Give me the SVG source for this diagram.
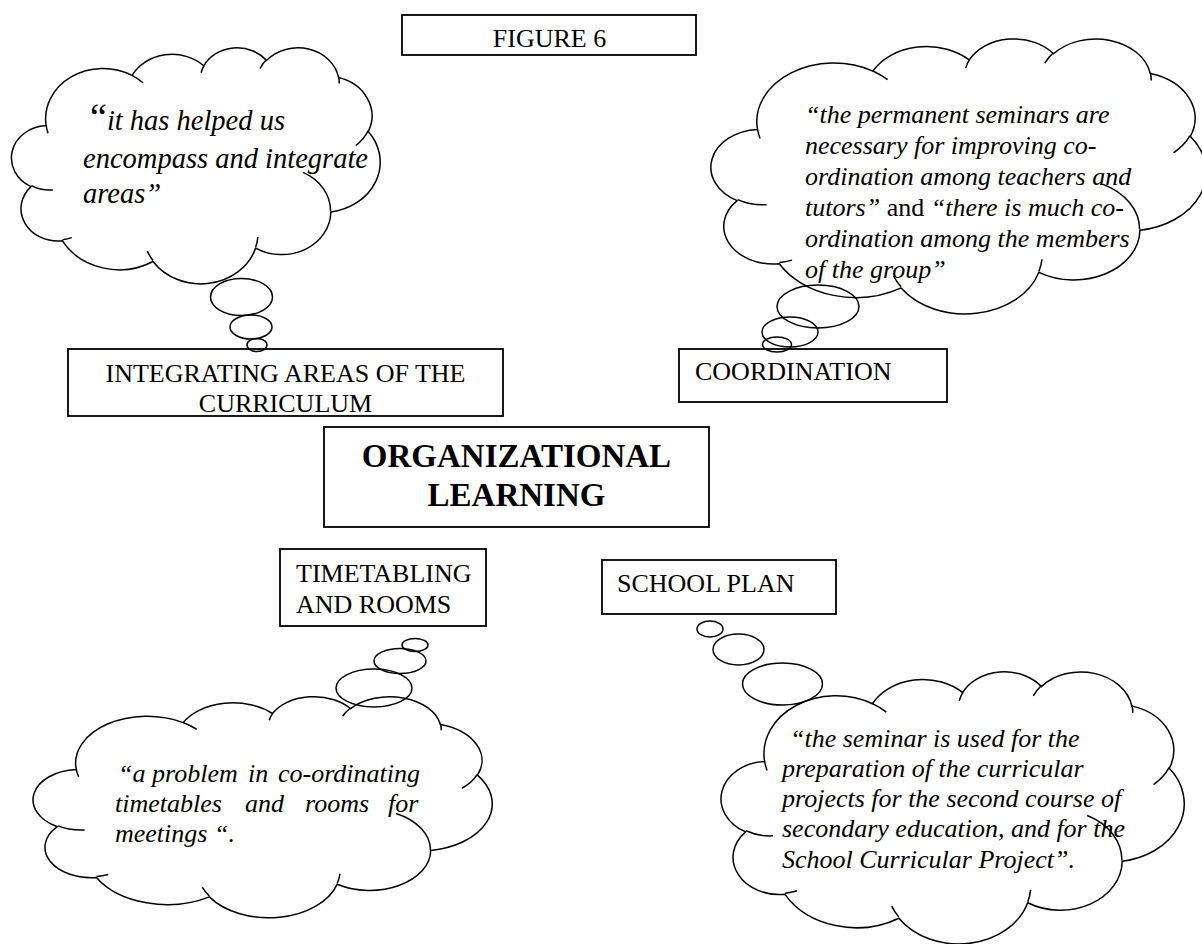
<svg xmlns="http://www.w3.org/2000/svg" xmlns:xlink="http://www.w3.org/1999/xlink" width="1202" height="944" viewBox="0 0 1202 944">
  <style>
    .box { fill: none; stroke: #000; stroke-width: 1.8; }
    .cloud { fill: none; stroke: #000; stroke-width: 1.5; vector-effect: non-scaling-stroke; stroke-linejoin: round; }
    .bubble { fill: none; stroke: #000; stroke-width: 1.5; }
    .label { font-family: "Liberation Serif", "Times New Roman", serif; font-size: 26px; fill: #000; }
    .title { font-family: "Liberation Serif", "Times New Roman", serif; font-size: 33px; font-weight: bold; fill: #000; }
    .quote { font-family: "Liberation Serif", "Times New Roman", serif; font-size: 26px; font-style: italic; fill: #000; }
    .roman { font-style: normal; }
  </style>
  <defs>
    <!-- cloud outline in a 43200 x 43200 unit box -->
    <g id="cloudShape">
      <path class="cloud" d="M3900 14370 A6753 9190 0 0 1 14005 5202 A5333 7267 0 0 1 22458 3433 A4365 5945 0 0 1 29836 2481 A4857 6595 0 0 1 38321 5576 A5333 7273 0 0 1 41822 15459 A6775 9220 0 0 1 37407 30200 A5785 7867 0 0 1 28558 36811 A6752 9215 0 0 1 16483 39264 A7720 10543 0 0 1 5808 35472 A4360 5918 0 0 1 2116 25552 A4345 5945 0 0 1 3900 14370 Z"/>
      <path class="cloud" d="M4693 26177 A4345 5945 0 0 1 2160 25380 M6928 34899 A4360 5918 0 0 1 5820 35281 M16478 39090 A6752 9215 0 0 1 15810 37348 M28827 34751 A6752 9215 0 0 1 28561 36660 M34129 22954 A5785 7867 0 0 1 37381 30090 M41798 15354 A5333 7273 0 0 1 40350 18030 M38324 5426 A4857 6595 0 0 1 38400 6690 M29078 3952 A4857 6595 0 0 1 29820 2340 M22141 4720 A4365 5945 0 0 1 22476 3397 M14000 5192 A6753 9190 0 0 1 15302 6543 M4127 15789 A6753 9190 0 0 1 3900 14371"/>
    </g>
  </defs>

  <!-- heading -->
  <g id="figure-title">
    <rect class="box" x="402" y="15" width="294" height="40"/>
    <text class="label" x="549.5" y="47" text-anchor="middle">FIGURE 6</text>
  </g>

  <!-- central concept -->
  <g id="organizational-learning">
    <rect class="box" x="324" y="427" width="385" height="100"/>
    <text class="title" x="516.5" y="467" text-anchor="middle">ORGANIZATIONAL</text>
    <text class="title" x="516.5" y="506" text-anchor="middle">LEARNING</text>
  </g>

  <g id="integrating-areas">
    <rect class="box" x="68" y="349" width="435" height="67"/>
    <text class="label" x="285.5" y="382" text-anchor="middle">INTEGRATING AREAS OF THE</text>
    <text class="label" x="285.5" y="412" text-anchor="middle">CURRICULUM</text>
  </g>

  <g id="coordination">
    <rect class="box" x="679" y="349" width="268" height="53"/>
    <text class="label" x="695" y="380">COORDINATION</text>
  </g>

  <g id="timetabling">
    <rect class="box" x="280" y="549" width="206" height="77"/>
    <text class="label" x="296" y="582">TIMETABLING</text>
    <text class="label" x="296" y="613">AND ROOMS</text>
  </g>

  <g id="school-plan">
    <rect class="box" x="602" y="560" width="234" height="54"/>
    <text class="label" x="617" y="592">SCHOOL PLAN</text>
  </g>

  <!-- thought bubbles linking each cloud to its box -->
  <g id="connectors">
    <ellipse class="bubble" cx="241.5" cy="297" rx="31" ry="18.5"/>
    <ellipse class="bubble" cx="251" cy="327" rx="21" ry="12"/>
    <ellipse class="bubble" cx="257" cy="345" rx="10" ry="6.5"/>

    <ellipse class="bubble" cx="818" cy="306.5" rx="41" ry="21.5"/>
    <ellipse class="bubble" cx="790" cy="332" rx="28" ry="15"/>
    <ellipse class="bubble" cx="777" cy="344.5" rx="14.5" ry="7.5"/>

    <ellipse class="bubble" cx="415" cy="645" rx="13" ry="6.5"/>
    <ellipse class="bubble" cx="400" cy="661" rx="26" ry="12.5"/>
    <ellipse class="bubble" cx="374" cy="688" rx="38" ry="19"/>

    <ellipse class="bubble" cx="710" cy="629" rx="13" ry="8"/>
    <ellipse class="bubble" cx="738.5" cy="649.5" rx="25.5" ry="15.5"/>
    <ellipse class="bubble" cx="782.5" cy="684" rx="40" ry="21"/>
  </g>

  <!-- quotation clouds -->
  <g id="cloud-integrating">
    <use xlink:href="#cloudShape" transform="translate(13,47) scale(0.0084954,0.0054630)"/>
    <text class="quote" style="font-size:28.5px" x="90" y="130"><tspan class="roman" style="font-size:38px">“</tspan>it has helped us</text>
    <text class="quote" style="font-size:28.5px" x="83" y="168">encompass and integrate</text>
    <text class="quote" style="font-size:28.5px" x="83" y="203">areas”</text>
  </g>

  <g id="cloud-coordination">
    <use xlink:href="#cloudShape" transform="translate(713,38) scale(0.011412,0.0063657)"/>
    <text class="quote" x="805" y="123">“the permanent seminars are</text>
    <text class="quote" x="805" y="154">necessary for improving co-</text>
    <text class="quote" x="805" y="185">ordination among teachers and</text>
    <text class="quote" x="805" y="216">tutors” <tspan class="roman">and</tspan> “there is much co-</text>
    <text class="quote" x="805" y="247">ordination among the members</text>
    <text class="quote" x="805" y="278">of the group”</text>
  </g>

  <g id="cloud-timetabling">
    <use xlink:href="#cloudShape" transform="translate(35,696) scale(0.010579,0.0051157)"/>
    <text class="quote" y="782"><tspan x="118">“a</tspan><tspan x="152">problem</tspan><tspan x="248">in</tspan><tspan x="278">co-ordinating</tspan></text>
    <text class="quote" y="812"><tspan x="115">timetables</tspan><tspan x="245">and</tspan><tspan x="305">rooms</tspan><tspan x="388">for</tspan></text>
    <text class="quote" x="115" y="842">meetings “.</text>
  </g>

  <g id="cloud-school-plan">
    <use xlink:href="#cloudShape" transform="translate(723,671) scale(0.010671,0.0062963)"/>
    <text class="quote" x="790" y="747">“the seminar is used for the</text>
    <text class="quote" x="782" y="777">preparation of the curricular</text>
    <text class="quote" x="782" y="807">projects for the second course of</text>
    <text class="quote" x="782" y="837">secondary education, and for the</text>
    <text class="quote" x="782" y="868">School Curricular Project”.</text>
  </g>
</svg>
